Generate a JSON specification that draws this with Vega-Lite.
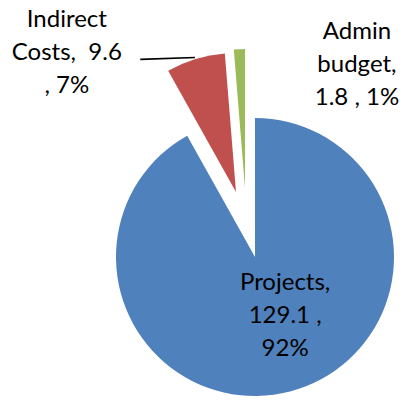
{
  "$schema": "https://vega.github.io/schema/vega-lite/v6.json",
  "width": 294,
  "height": 286,
  "autosize": "none",
  "padding": {"left": 108, "top": 114, "right": 0, "bottom": 0},
  "background": "white",
  "config": {"view": {"stroke": null}, "text": {"font": "Lato", "fontSize": 24, "lineHeight": 33, "color": "#000000"}},
  "data": {
    "values": [
      {"category": "Projects", "value": 129.1, "label": ["Projects,", "129.1 ,", "92%"]},
      {"category": "Indirect Costs", "value": 9.6, "label": ["Indirect", "Costs,\u00a0 9.6", ", 7%"]},
      {"category": "Admin budget", "value": 1.8, "label": ["Admin", "budget,", "1.8 , 1%"]}
    ]
  },
  "layer": [
    {
      "encoding": {
        "theta": {"field": "value", "type": "quantitative", "stack": true},
        "order": {"field": "value", "type": "quantitative", "sort": "descending"}
      },
      "layer": [
        {
          "mark": {"type": "arc", "outerRadius": 139},
          "encoding": {
            "color": {"field": "category", "type": "nominal", "legend": null,
              "scale": {"domain": ["Projects", "Indirect Costs", "Admin budget"], "range": ["#4F81BD", "#C0504D", "#9BBB59"]}},
            "opacity": {"condition": {"test": "datum.category === 'Projects'", "value": 1}, "value": 0}
          }
        },
        {
          "mark": {"type": "arc", "outerRadius": 139, "xOffset": -19, "yOffset": -65},
          "encoding": {
            "color": {"field": "category", "type": "nominal", "legend": null},
            "opacity": {"condition": {"test": "datum.category === 'Indirect Costs'", "value": 1}, "value": 0}
          }
        },
        {
          "mark": {"type": "arc", "outerRadius": 139, "xOffset": -10, "yOffset": -69},
          "encoding": {
            "color": {"field": "category", "type": "nominal", "legend": null},
            "opacity": {"condition": {"test": "datum.category === 'Admin budget'", "value": 1}, "value": 0}
          }
        },
        {
          "mark": {"type": "text", "radius": 60, "dx": 15, "dy": -25, "align": "center", "baseline": "alphabetic"},
          "encoding": {
            "text": {"condition": {"test": "datum.category === 'Projects'", "field": "label"}, "value": ""}
          }
        },
        {
          "mark": {"type": "text", "radius": 200, "dx": -130, "dy": -39, "align": "center", "baseline": "alphabetic"},
          "encoding": {
            "text": {"condition": {"test": "datum.category === 'Indirect Costs'", "field": "label"}, "value": ""}
          }
        },
        {
          "mark": {"type": "text", "radius": 200, "dx": 110, "dy": -18, "align": "center", "baseline": "alphabetic"},
          "encoding": {
            "text": {"condition": {"test": "datum.category === 'Admin budget'", "field": "label"}, "value": ""}
          }
        }
      ]
    },
    {
      "transform": [{"filter": "datum.category === 'Indirect Costs'"}],
      "mark": {"type": "arc", "theta": 4.676, "theta2": 4.679, "innerRadius": 0, "outerRadius": 54,
        "xOffset": -60, "yOffset": -199.5, "fill": null, "filled": false, "stroke": "#000000", "strokeWidth": 1.5},
      "encoding": {}
    }
  ]
}
